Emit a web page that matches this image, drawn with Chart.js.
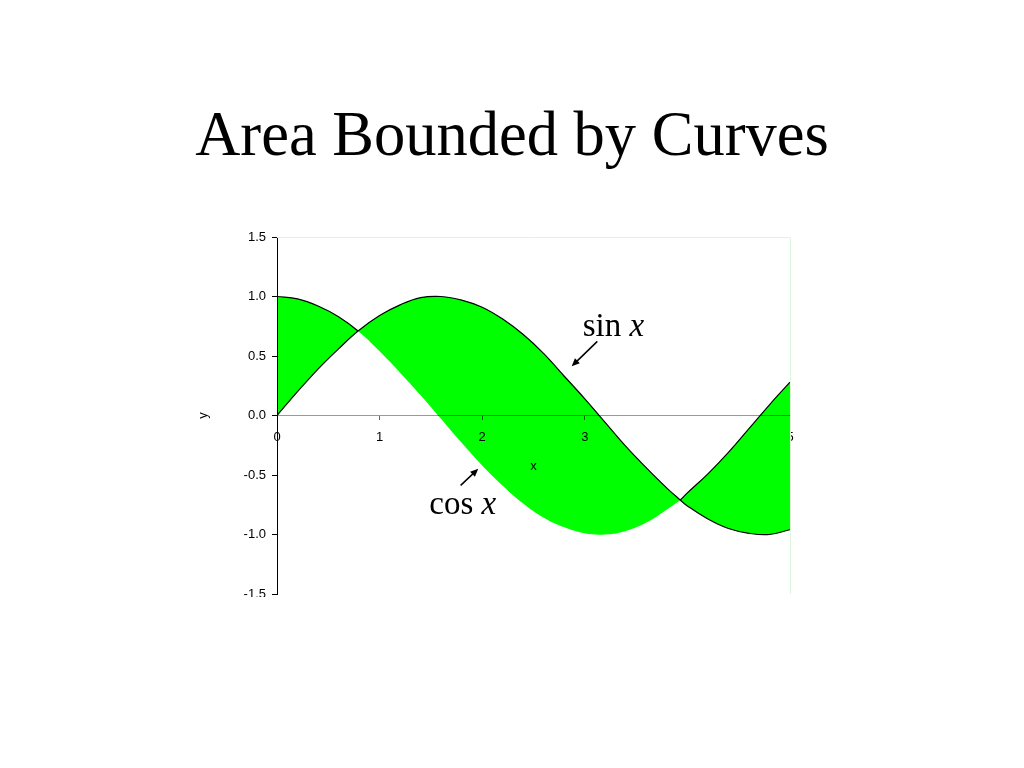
<!DOCTYPE html>
<html>
<head>
<meta charset="utf-8">
<script src="https://cdn.jsdelivr.net/npm/chart.js@4/dist/chart.umd.min.js"></script>
<style>
  html, body { margin: 0; padding: 0; background: #fff; }
  body { width: 1024px; height: 768px; position: relative; overflow: hidden; }
  #title {
    position: absolute; left: 0; top: 103px; width: 1024px; text-align: center;
    font-family: "Liberation Serif", "Times New Roman", serif; font-size: 62.5px; line-height: 62px;
    color: #000; margin: 0; font-weight: normal;
  }
  #clip { position: absolute; left: 0; top: 0; width: 1024px; height: 597px; overflow: hidden; }
  #box { position: absolute; left: 0; top: 0; width: 1024px; height: 768px; }
</style>
</head>
<body>
<div id="clip"><div id="box"><canvas id="c"></canvas></div></div>
<h1 id="title">Area Bounded by Curves</h1>
<script>
// ---- data ----
const xValues   = [0, 0.2, 0.4, 0.6, 0.79, 1.0, 1.2, 1.4, 1.6, 1.8, 2.0, 2.2, 2.4, 2.6, 2.8, 3.0, 3.2, 3.4, 3.6, 3.8, 3.93, 4.0, 4.2, 4.4, 4.6, 4.8, 5.0];
const sinValues = [0, 0.20, 0.39, 0.56, 0.71, 0.84, 0.93, 0.99, 1.00, 0.97, 0.91, 0.81, 0.68, 0.52, 0.33, 0.14, -0.06, -0.26, -0.44, -0.61, -0.71, -0.76, -0.87, -0.95, -0.99, -1.00, -0.96];
const cosValues = [1.00, 0.98, 0.92, 0.83, 0.71, 0.54, 0.36, 0.17, -0.03, -0.23, -0.42, -0.59, -0.74, -0.86, -0.94, -0.99, -1.00, -0.97, -0.90, -0.79, -0.71, -0.65, -0.49, -0.31, -0.11, 0.09, 0.28];
const xTickLabels = ['0', '1', '2', '3', '4', '5'];
const yTickLabels = ['-1.5', '-1.0', '-0.5', '0.0', '0.5', '1.0', '1.5'];
const xTitle = 'x';
const yTitle = 'y';
const annotations = [
  { text: 'sin ', italic: 'x', tx: 2.98, ty: 0.67, from: [3.122, 0.623], to: [2.872, 0.413] },
  { text: 'cos ', italic: 'x', tx: 1.484, ty: -0.83, from: [1.790, -0.587], to: [1.962, -0.447] }
];

const toPoints = (ys) => xValues.map((x, i) => ({ x: x, y: ys[i] }));

const framePlugin = {
  id: 'frame',
  beforeDatasetsDraw(chart) {
    const { ctx, chartArea: a } = chart;
    ctx.save();
    ctx.strokeStyle = '#dcf7dc';
    ctx.lineWidth = 1;
    ctx.beginPath();
    ctx.moveTo(a.left, a.top + 0.5);
    ctx.lineTo(a.right + 0.5, a.top + 0.5);
    ctx.lineTo(a.right + 0.5, a.bottom);
    ctx.stroke();
    ctx.restore();
  }
};

// the green band is laid over the axis like a tinted overlay (multiply)
const blendPlugin = {
  id: 'blend',
  afterDatasetDraw(chart, args) {
    if (args.index === 1) chart.ctx.globalCompositeOperation = 'multiply';
    if (args.index === 0) chart.ctx.globalCompositeOperation = 'source-over';
  },
  afterDatasetsDraw(chart) { chart.ctx.globalCompositeOperation = 'source-over'; }
};

const labelsPlugin = {
  id: 'labels',
  afterDraw(chart) {
    const { ctx } = chart;
    const xs = chart.scales.x, ys = chart.scales.y;
    ctx.save();
    ctx.fillStyle = '#000';
    ctx.font = '13px "Liberation Sans", Arial, sans-serif';
    ctx.textAlign = 'center';
    ctx.textBaseline = 'middle';
    ctx.fillText(xTitle, xs.getPixelForValue(2.5), ys.getPixelForValue(0) + 51);
    ctx.save();
    ctx.translate(xs.getPixelForValue(0) - 74, ys.getPixelForValue(0));
    ctx.rotate(-Math.PI / 2);
    ctx.fillText(yTitle, 0, 0);
    ctx.restore();

    annotations.forEach(an => {
      const px = xs.getPixelForValue(an.tx), py = ys.getPixelForValue(an.ty);
      ctx.textAlign = 'left';
      ctx.textBaseline = 'alphabetic';
      ctx.font = '33px "Liberation Serif", "Times New Roman", serif';
      ctx.fillText(an.text, px, py);
      const w = ctx.measureText(an.text).width;
      ctx.font = 'italic 33px "Liberation Serif", "Times New Roman", serif';
      ctx.fillText(an.italic, px + w, py);

      const x1 = xs.getPixelForValue(an.from[0]), y1 = ys.getPixelForValue(an.from[1]);
      const x2 = xs.getPixelForValue(an.to[0]), y2 = ys.getPixelForValue(an.to[1]);
      const ang = Math.atan2(y2 - y1, x2 - x1);
      const hl = 8, hw = 3.5;
      ctx.strokeStyle = '#000';
      ctx.lineWidth = 1.5;
      ctx.beginPath();
      ctx.moveTo(x1, y1);
      ctx.lineTo(x2 - Math.cos(ang) * hl * 0.8, y2 - Math.sin(ang) * hl * 0.8);
      ctx.stroke();
      ctx.beginPath();
      ctx.moveTo(x2, y2);
      ctx.lineTo(x2 - Math.cos(ang) * hl - Math.sin(ang) * hw, y2 - Math.sin(ang) * hl + Math.cos(ang) * hw);
      ctx.lineTo(x2 - Math.cos(ang) * hl + Math.sin(ang) * hw, y2 - Math.sin(ang) * hl - Math.cos(ang) * hw);
      ctx.closePath();
      ctx.fillStyle = '#000';
      ctx.fill();
    });
    ctx.restore();
  }
};

const tickFont = { family: '"Liberation Sans", Arial, sans-serif', size: 13 };

new Chart(document.getElementById('c'), {
  type: 'line',
  data: {
    datasets: [
      {
        label: 'cos x',
        data: toPoints(cosValues),
        xAxisID: 'x', yAxisID: 'y',
        borderColor: '#000',
        borderWidth: 1.2,
        backgroundColor: '#00ff00',
        fill: '+1',
        pointRadius: 0,
        tension: 0.4,
        segment: {
          borderColor: (c) => (cosValues[c.p0DataIndex] >= sinValues[c.p0DataIndex] &&
                               cosValues[c.p1DataIndex] >= sinValues[c.p1DataIndex]) ? '#000' : 'rgba(0,0,0,0)'
        }
      },
      {
        label: 'sin x',
        data: toPoints(sinValues),
        xAxisID: 'x', yAxisID: 'y',
        borderColor: '#000',
        borderWidth: 1.2,
        backgroundColor: '#ffffff',
        fill: { target: 'origin', above: 'rgba(255,255,255,0)', below: '#ffffff' },
        pointRadius: 0,
        tension: 0.4
      }
    ]
  },
  options: {
    responsive: true,
    maintainAspectRatio: false,
    animation: false,
    events: [],
    layout: { padding: { left: 217, right: 234, top: 237, bottom: 174 } },
    plugins: { legend: { display: false }, tooltip: { enabled: false }, title: { display: false } },
    scales: {
      x: {
        type: 'linear',
        position: { y: 0 },
        min: 0, max: 5,
        afterBuildTicks: (s) => { s.ticks = xTickLabels.map(v => ({ value: Number(v) })); },
        ticks: { callback: (v) => xTickLabels[Math.round(v)], color: '#000', font: tickFont, padding: 10, maxRotation: 0 },
        grid: { drawOnChartArea: false, drawTicks: true, tickLength: 4, color: '#666' },
        border: { display: true, color: '#777', width: 1 }
      },
      y: {
        type: 'linear',
        position: 'left',
        min: -1.5, max: 1.5,
        afterFit: (s) => { s.width = 60; },
        afterBuildTicks: (s) => { s.ticks = yTickLabels.map(v => ({ value: Number(v) })); },
        ticks: { callback: (v) => yTickLabels[Math.round((v + 1.5) * 2)], color: '#000', font: tickFont, padding: 6 },
        grid: { drawOnChartArea: false, drawTicks: true, tickLength: 5, color: '#000' },
        border: { display: true, color: '#000', width: 1 }
      }
    }
  },
  plugins: [framePlugin, blendPlugin, labelsPlugin]
});
</script>
</body>
</html>
